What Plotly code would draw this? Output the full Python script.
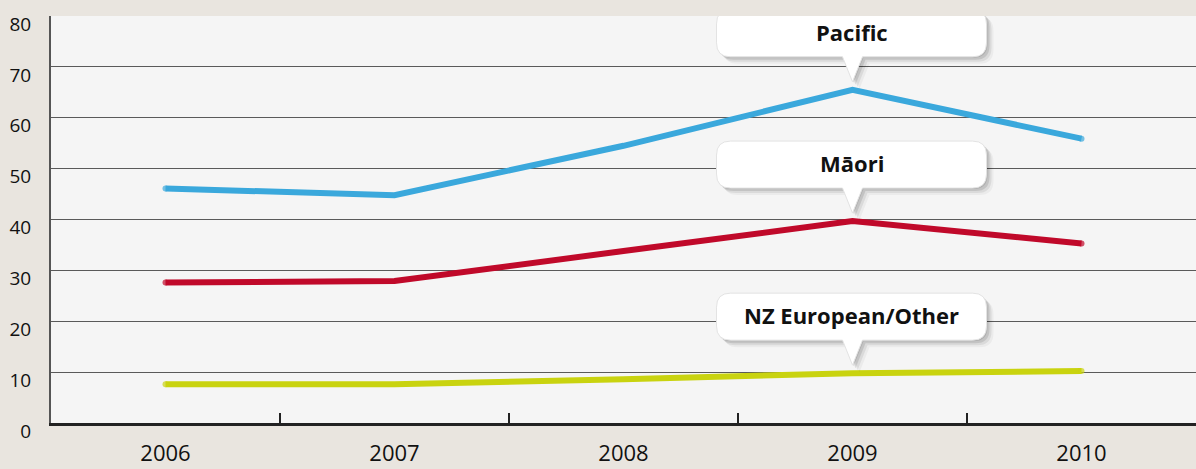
import plotly.graph_objects as go

years = ["2006", "2007", "2008", "2009", "2010"]
pacific = [46.1, 44.8, 54.5, 65.5, 55.9]
maori = [27.6, 27.9, 33.8, 39.7, 35.3]
nz_european = [7.6, 7.6, 8.6, 9.8, 10.2]

series = [
    ("Pacific", pacific, "#3aa8dc"),
    ("Māori", maori, "#c0092a"),
    ("NZ European/Other", nz_european, "#c9d30f"),
]
label_year = "2009"

fig = go.Figure()
for name, vals, col in series:
    caps = [6 if i in (0, len(vals) - 1) else 0 for i in range(len(vals))]
    fig.add_trace(go.Scatter(x=years, y=vals, mode="lines+markers", name=name,
                             line=dict(color=col, width=6),
                             marker=dict(size=caps, color=col, line=dict(width=0)),
                             showlegend=False))


def callout_path(dx=0, dy=0):
    L, R, B, T, r = -136 + dx, 134 + dx, 33 + dy, 80 + dy, 14
    return (f"M{L+r},{T}L{R-r},{T}Q{R},{T} {R},{T-r}L{R},{B+r}Q{R},{B} {R-r},{B}"
            f"L{10+dx},{B}L{dx},{8+dy}L{-10+dx},{B}L{L+r},{B}Q{L},{B} {L},{B+r}"
            f"L{L},{T-r}Q{L},{T} {L+r},{T}Z")


shapes = []
annotations = []
idx = years.index(label_year)
for name, vals, col in series:
    yv = vals[idx]
    for (dx, dy, a) in [(7, -7, 0.04), (5, -5, 0.07), (3, -3, 0.10), (1, -1, 0.10)]:
        shapes.append(dict(type="path", xref="x", yref="y", xsizemode="pixel", ysizemode="pixel",
                           xanchor=idx, yanchor=yv, path=callout_path(dx, dy),
                           fillcolor=f"rgba(0,0,0,{a})", line=dict(width=0), layer="above"))
    shapes.append(dict(type="path", xref="x", yref="y", xsizemode="pixel", ysizemode="pixel",
                       xanchor=idx, yanchor=yv, path=callout_path(),
                       fillcolor="white", line=dict(color="#e3e3e3", width=1), layer="above"))
    annotations.append(dict(x=idx, y=yv, xref="x", yref="y", text=f"<b>{name}</b>",
                            showarrow=False, yshift=58, xshift=-1,
                            font=dict(family="Open Sans", size=22, color="#111111")))

fig.update_layout(
    width=1196, height=469,
    margin=dict(l=51, r=0, t=16, b=46, autoexpand=False),
    paper_bgcolor="#e9e5df",
    plot_bgcolor="#f5f5f5",
    shapes=shapes,
    annotations=annotations,
    xaxis=dict(type="category", categoryorder="array", categoryarray=years,
               range=[-0.5, 4.5], tickson="boundaries", ticks="inside", ticklen=10,
               tickwidth=2, tickcolor="#222222", showgrid=False, showline=True,
               linecolor="#222222", linewidth=3,
               tickfont=dict(family="Open Sans", size=22, color="#111111"),
               ticklabelstandoff=9),
    yaxis=dict(range=[0, 80.02], tickvals=[0, 10, 20, 30, 40, 50, 60, 70, 80],
               showgrid=True, gridcolor="#5a5a5a", gridwidth=1,
               zeroline=False, showline=True, linecolor="#555555", linewidth=2,
               ticks="", tickfont=dict(family="Open Sans", size=19, color="#111111"),
               ticklabelstandoff=14, ticklabelshift=8),
)

fig.write_html("out.html", post_script="document.body.style.margin='0';",
               config={"displayModeBar": False})
